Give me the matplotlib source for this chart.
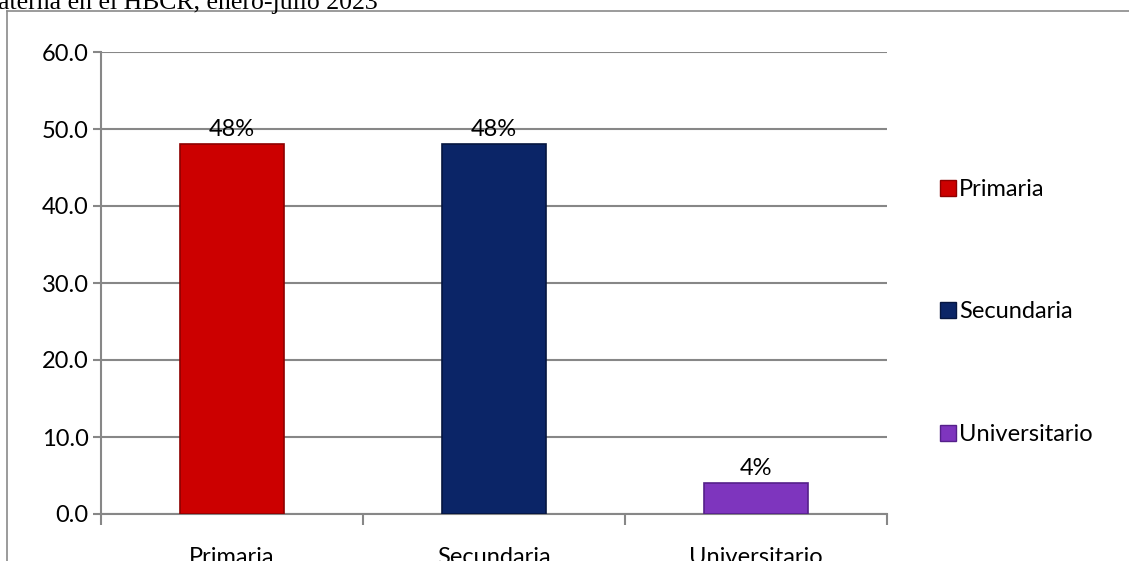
import matplotlib
matplotlib.use("Agg")
import matplotlib.pyplot as plt
from matplotlib.lines import Line2D
import numpy as np

categories = ["Primaria", "Secundaria", "Universitario"]
values = [48.0, 48.0, 4.0]
labels = ["48%", "48%", "4%"]
colors = ["#CC0000", "#0B2567", "#7E35BE"]
edges = ["#8E0000", "#061640", "#55208A"]
yticks = [0, 10, 20, 30, 40, 50, 60]

W, H = 1129, 561
fig = plt.figure(figsize=(W / 100, H / 100), dpi=100)
plt.rcParams["font.family"] = ["Lato", "DejaVu Sans"]
FS = 17

# plot area in pixel coordinates
left, right, top, bottom = 101, 887, 52, 514
ax = fig.add_axes([left / W, 1 - bottom / H, (right - left) / W, (bottom - top) / H])

x = np.arange(len(categories))
bars = ax.bar(x, values, width=0.4, color=colors, edgecolor=edges, linewidth=1.2, zorder=3)
for xi, v, lab in zip(x, values, labels):
    ax.annotate(lab, (xi, v), xytext=(0, 3), textcoords="offset points",
                ha="center", va="bottom", fontsize=FS, color="#000000")

ax.set_xlim(-0.5, 2.5)
ax.set_ylim(0, 60)
ax.set_yticks(yticks)
ax.set_yticklabels([f"{t:.1f}" for t in yticks], fontsize=FS)
ax.yaxis.grid(True, color="#878787", linewidth=1.5, zorder=0)
ax.set_axisbelow(True)

# category labels between boundary ticks
ax.set_xticks([-0.5, 0.5, 1.5, 2.5])
ax.set_xticklabels([])
ax.set_xticks(x, minor=True)
ax.set_xticklabels(categories, minor=True, fontsize=FS)
ax.tick_params(axis="x", which="minor", length=0, pad=24)
ax.tick_params(axis="x", which="major", length=8, width=1.5, color="#878787", direction="out")
ax.tick_params(axis="y", length=6, width=1.5, color="#878787", pad=3)

for s in ["top", "right"]:
    ax.spines[s].set_visible(False)
for s in ["left", "bottom"]:
    ax.spines[s].set_color("#878787")
    ax.spines[s].set_linewidth(1.5)

# legend
handles = [Line2D([], [], marker="s", linestyle="none", markersize=11,
                  markerfacecolor=c, markeredgecolor=e) for c, e in zip(colors, edges)]
leg = fig.legend(handles, categories, loc="upper left",
                 bbox_to_anchor=(927 / W, 1 - 167 / H), frameon=False,
                 fontsize=FS, handletextpad=0.05, labelspacing=4.3,
                 handlelength=0.8, borderpad=0)

# outer chart border
fig.add_artist(Line2D([7 / W, 7 / W], [0, 1 - 11 / H], transform=fig.transFigure,
                      color="#8A8A8A", linewidth=1.2))
fig.add_artist(Line2D([7 / W, 1], [1 - 11 / H, 1 - 11 / H], transform=fig.transFigure,
                      color="#8A8A8A", linewidth=1.2))

# caption running above the chart frame
fig.text(-2 / W, 1 - 9 / H, "aterna en el HBCR, enero-julio 2023",
         family=["Liberation Serif"], fontsize=18.5, ha="left", va="baseline", color="#000000")

fig.savefig("out.png", dpi=100)
